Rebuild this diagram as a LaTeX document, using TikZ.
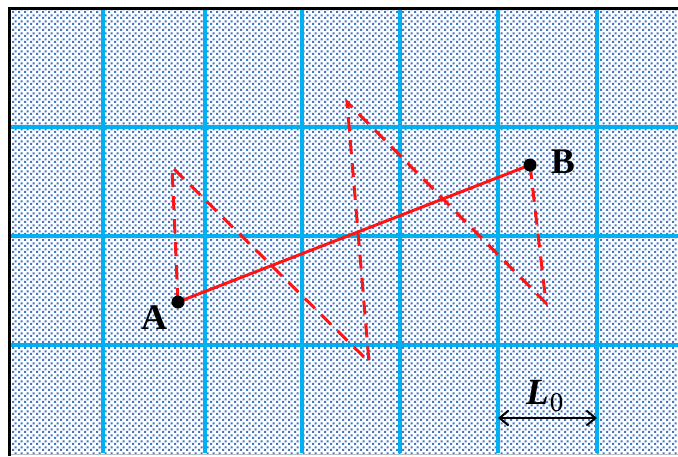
\documentclass[tikz,border=0pt]{standalone}
\usepackage{fontspec}
\setmainfont{Liberation Serif}
\usetikzlibrary{patterns,arrows.meta}
\pgfdeclarepatternformonly{bluedots}{\pgfpointorigin}{\pgfpoint{6pt}{6pt}}{\pgfpoint{6pt}{6pt}}{%
  \pgfpathrectangle{\pgfpoint{0pt}{0pt}}{\pgfpoint{2.5pt}{2.5pt}}%
  \pgfpathrectangle{\pgfpoint{3pt}{3pt}}{\pgfpoint{2.5pt}{2.5pt}}%
  \pgfusepath{fill}}
\definecolor{dotblue}{RGB}{68,118,196}
\definecolor{gridcyan}{RGB}{0,176,240}
\definecolor{pathred}{RGB}{255,20,20}
\tikzset{
  gridline/.style={gridcyan, line width=4pt},
  solidpath/.style={pathred, line width=3pt},
  dashpath/.style={pathred, line width=3pt, dash pattern=on 14pt off 9pt},
  endpoint/.style={circle, fill=black, inner sep=0pt, minimum size=13pt},
  lbl/.style={font=\fontsize{36}{36}\selectfont\bfseries, inner sep=0pt},
}
\begin{document}
\begin{tikzpicture}[x=1pt,y=-1pt]
\useasboundingbox (0,0) rectangle (678,456);
% background pattern
\fill[white] (0,0) rectangle (678,456);
\fill[pattern=bluedots, pattern color=dotblue] (11,10) rectangle (678,453);
% grid
\foreach \x in {103,205,302,400,498,597} \draw[gridline] (\x,10) -- (\x,453);
\foreach \y in {127,236,345} \draw[gridline] (11,\y) -- (678,\y);
% frame
\draw[black, line width=3pt] (9.5,456) -- (9.5,8.5) -- (678,8.5);
\draw[gray!50, line width=1pt] (11,454) -- (678,454);
% points
\coordinate (A) at (178,302);
\coordinate (B) at (530,165);
\coordinate (p1) at (172,167);
\coordinate (p2) at (369,362);
\coordinate (p3) at (347,102);
\coordinate (p4) at (546,303);
\draw[dashpath] (A) -- (p1) -- (p2) -- (p3) -- (p4) -- (B);
\draw[solidpath] (A) -- (B);
\node[endpoint] (dA) at (A) {};
\node[endpoint] (dB) at (B) {};
\node[lbl] (la) at (154,318) {A};
\node[lbl] (lb) at (563,162) {B};
% L0 scale
\coordinate (s1) at (498,418);
\coordinate (s2) at (597,418);
\draw[black, line width=2pt, {Straight Barb[length=9pt,width=15pt]}-{Straight Barb[length=9pt,width=15pt]}] (s1) -- (s2);
\node[inner sep=0pt, anchor=base west] (L0) at (526,404) {\fontsize{37}{37}\selectfont\bfseries\itshape L\kern1pt\raisebox{-7pt}{\fontsize{27}{27}\selectfont\upshape\mdseries 0}};
\end{tikzpicture}
\end{document}
